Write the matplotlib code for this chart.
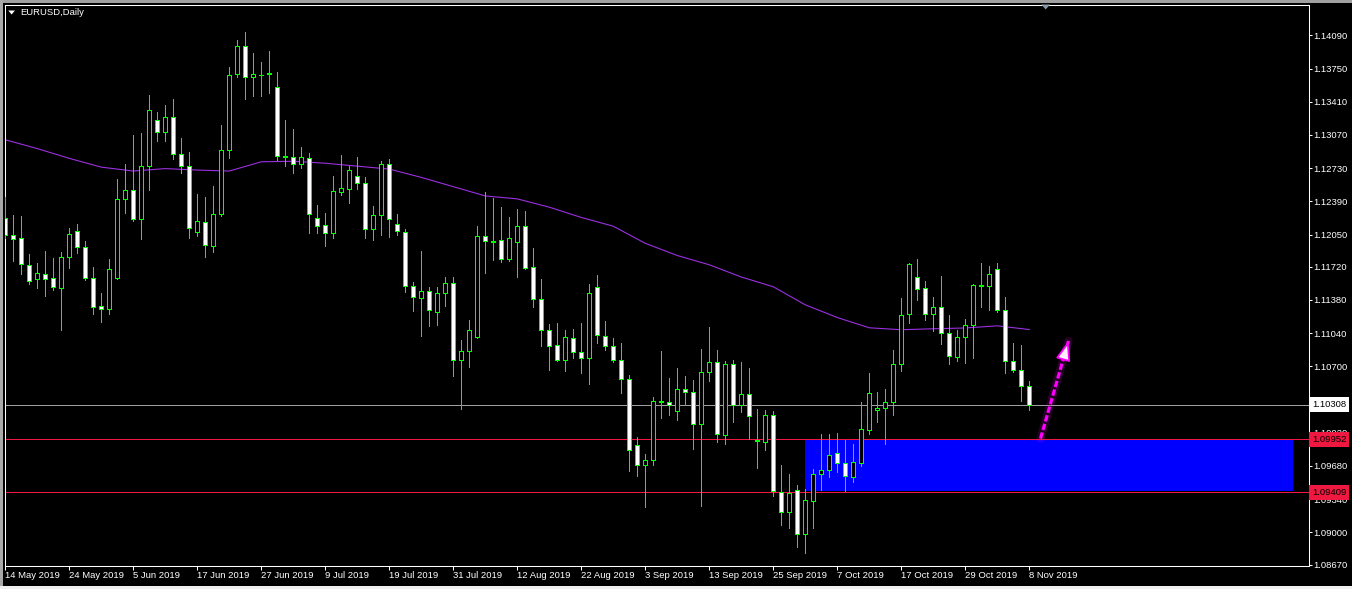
import numpy as np
import matplotlib
matplotlib.use("Agg")
import matplotlib.pyplot as plt
from matplotlib.patches import Rectangle, Polygon

plt.rcParams['font.family'] = ['Liberation Sans', 'DejaVu Sans']

# EURUSD daily candles, 14 May 2019 .. 8 Nov 2019
opens = [1.1222, 1.1204, 1.1201, 1.1174, 1.1159, 1.1165, 1.1160, 1.1150, 1.1182, 1.1209,
         1.1192, 1.1160, 1.1132, 1.1129, 1.1160, 1.1241, 1.1251, 1.1221, 1.1275, 1.1322,
         1.1310, 1.1325, 1.1287, 1.1275, 1.1208, 1.1218, 1.1193, 1.1226, 1.1292, 1.1369,
         1.1398, 1.1366, 1.1368, 1.1369, 1.1356, 1.1285, 1.1284, 1.1277, 1.1283, 1.1222,
         1.1215, 1.1207, 1.1249, 1.1252, 1.1265, 1.1258, 1.1211, 1.1225, 1.1277, 1.1216,
         1.1208, 1.1152, 1.1140, 1.1147, 1.1126, 1.1145, 1.1155, 1.1076, 1.1086, 1.1100,
         1.1203, 1.1198, 1.1199, 1.1180, 1.1197, 1.1214, 1.1172, 1.1139, 1.1107, 1.1092,
         1.1077, 1.1099, 1.1085, 1.1079, 1.1151, 1.1101, 1.1091, 1.1077, 1.1057, 1.0989,
         1.0969, 1.0974, 1.1035, 1.1034, 1.1024, 1.1047, 1.1044, 1.1011, 1.1064, 1.1074,
         1.1000, 1.1072, 1.1030, 1.1042, 1.0995, 1.0993, 1.1020, 1.0941, 1.0921, 1.0943,
         1.0898, 1.0932, 1.0960, 1.0964, 1.0981, 1.0971, 1.0957, 1.0971, 1.1005, 1.1025,
         1.1027, 1.1033, 1.1072, 1.1124, 1.1161, 1.1150, 1.1124, 1.1131, 1.1104, 1.1080,
         1.1100, 1.1112, 1.1152, 1.1152, 1.1170, 1.1128, 1.1075, 1.1066, 1.1050]
highs = [1.1243, 1.1225, 1.1224, 1.1185, 1.1176, 1.1188, 1.1181, 1.1187, 1.1212, 1.1216,
         1.1198, 1.1172, 1.1145, 1.1180, 1.1262, 1.1277, 1.1307, 1.1309, 1.1348, 1.1330,
         1.1338, 1.1344, 1.1304, 1.1289, 1.1247, 1.1243, 1.1255, 1.1317, 1.1377, 1.1404,
         1.1412, 1.1391, 1.1382, 1.1393, 1.1371, 1.1322, 1.1313, 1.1295, 1.1288, 1.1235,
         1.1227, 1.1265, 1.1286, 1.1275, 1.1284, 1.1264, 1.1234, 1.1280, 1.1282, 1.1226,
         1.1211, 1.1156, 1.1188, 1.1151, 1.1151, 1.1161, 1.1162, 1.1097, 1.1117, 1.1214,
         1.1249, 1.1242, 1.1233, 1.1223, 1.1231, 1.1229, 1.1191, 1.1159, 1.1113, 1.1114,
         1.1107, 1.1108, 1.1114, 1.1154, 1.1164, 1.1116, 1.1099, 1.1094, 1.1061, 1.0998,
         1.0980, 1.1039, 1.1086, 1.1058, 1.1068, 1.1060, 1.1056, 1.1088, 1.1110, 1.1087,
         1.1075, 1.1076, 1.1074, 1.1068, 1.1026, 1.1025, 1.1024, 1.0969, 1.0960, 1.0949,
         1.0944, 1.0965, 1.1001, 1.1001, 1.1002, 1.0995, 1.0991, 1.1034, 1.1063, 1.1044,
         1.1047, 1.1087, 1.1140, 1.1176, 1.1180, 1.1157, 1.1141, 1.1163, 1.1123, 1.1107,
         1.1119, 1.1154, 1.1176, 1.1173, 1.1176, 1.1141, 1.1094, 1.1092, 1.1055]
lows = [1.1201, 1.1178, 1.1165, 1.1154, 1.1150, 1.1142, 1.1148, 1.1107, 1.1171, 1.1186,
        1.1158, 1.1124, 1.1115, 1.1124, 1.1159, 1.1227, 1.1219, 1.1200, 1.1251, 1.1301,
        1.1301, 1.1282, 1.1268, 1.1201, 1.1203, 1.1182, 1.1187, 1.1224, 1.1283, 1.1366,
        1.1344, 1.1347, 1.1347, 1.1350, 1.1281, 1.1275, 1.1268, 1.1273, 1.1207, 1.1207,
        1.1193, 1.1201, 1.1245, 1.1237, 1.1252, 1.1201, 1.1199, 1.1204, 1.1202, 1.1205,
        1.1146, 1.1127, 1.1101, 1.1111, 1.1112, 1.1132, 1.1060, 1.1026, 1.1069, 1.1099,
        1.1166, 1.1179, 1.1177, 1.1178, 1.1161, 1.1170, 1.1131, 1.1091, 1.1066, 1.1075,
        1.1065, 1.1079, 1.1063, 1.1052, 1.1094, 1.1087, 1.1074, 1.1043, 1.0963, 1.0958,
        1.0926, 1.0969, 1.1017, 1.1020, 1.1015, 1.1030, 1.0985, 1.0927, 1.1055, 1.0993,
        1.0990, 1.1013, 1.1023, 1.0996, 1.0966, 1.0984, 1.0937, 1.0908, 1.0904, 1.0885,
        1.0879, 1.0904, 1.0943, 1.0957, 1.0962, 1.0942, 1.0952, 1.0968, 1.1001, 1.1013,
        1.0991, 1.1020, 1.1065, 1.1114, 1.1138, 1.1117, 1.1106, 1.1093, 1.1072, 1.1075,
        1.1073, 1.1079, 1.1131, 1.1128, 1.1126, 1.1063, 1.1064, 1.1035, 1.1025]
closes = [1.1204, 1.1200, 1.1175, 1.1157, 1.1166, 1.1159, 1.1151, 1.1182, 1.1206, 1.1192,
          1.1160, 1.1131, 1.1129, 1.1170, 1.1241, 1.1251, 1.1221, 1.1275, 1.1333, 1.1310,
          1.1325, 1.1287, 1.1275, 1.1212, 1.1219, 1.1194, 1.1226, 1.1292, 1.1368, 1.1398,
          1.1366, 1.1369, 1.1368, 1.1370, 1.1285, 1.1284, 1.1277, 1.1284, 1.1226, 1.1214,
          1.1207, 1.1250, 1.1253, 1.1271, 1.1258, 1.1211, 1.1225, 1.1277, 1.1221, 1.1209,
          1.1152, 1.1141, 1.1147, 1.1128, 1.1145, 1.1155, 1.1076, 1.1086, 1.1107, 1.1203,
          1.1198, 1.1197, 1.1180, 1.1201, 1.1214, 1.1171, 1.1139, 1.1107, 1.1091, 1.1077,
          1.1100, 1.1085, 1.1079, 1.1145, 1.1102, 1.1091, 1.1077, 1.1057, 1.0984, 1.0969,
          1.0974, 1.1035, 1.1034, 1.1030, 1.1047, 1.1044, 1.1011, 1.1064, 1.1074, 1.1001,
          1.1072, 1.1030, 1.1042, 1.1019, 1.0994, 1.1020, 1.0942, 1.0921, 1.0940, 1.0898,
          1.0933, 1.0960, 1.0964, 1.0979, 1.0971, 1.0958, 1.0972, 1.1006, 1.1043, 1.1027,
          1.1033, 1.1072, 1.1123, 1.1175, 1.1149, 1.1124, 1.1131, 1.1104, 1.1081, 1.1100,
          1.1112, 1.1153, 1.1153, 1.1165, 1.1128, 1.1075, 1.1066, 1.1050, 1.10308]

# moving average, read every 4th bar
ma_step = 4
ma_values = [1.1302, 1.1293, 1.1283, 1.1274, 1.1270, 1.12725, 1.1271, 1.1270, 1.12795,
             1.1280, 1.1278, 1.1275, 1.1272, 1.12635, 1.1254, 1.12445, 1.12415, 1.1233,
             1.12225, 1.12135, 1.1196, 1.11835, 1.1174, 1.11615, 1.11515, 1.1133, 1.1120,
             1.11095, 1.11075, 1.11085, 1.11093, 1.11115, 1.11077]

date_labels = ['14 May 2019', '24 May 2019', '5 Jun 2019', '17 Jun 2019', '27 Jun 2019',
               '9 Jul 2019', '19 Jul 2019', '31 Jul 2019', '12 Aug 2019', '22 Aug 2019',
               '3 Sep 2019', '13 Sep 2019', '25 Sep 2019', '7 Oct 2019', '17 Oct 2019',
               '29 Oct 2019', '8 Nov 2019']
label_step = 8

price_ticks = [1.14090, 1.13750, 1.13410, 1.13070, 1.12730, 1.12390, 1.12050, 1.11720,
               1.11380, 1.11040, 1.10700, 1.10360, 1.10020, 1.09680, 1.09340, 1.09000,
               1.08670]

bid_price = 1.10308
zone_high = 1.09952
zone_low_line = 1.09409
zone_low = 1.09425
zone_start = 99.95
zone_end = 161.0

W, H = 1352, 589
GREEN = '#00ff00'
RED = '#ee1840'
LW = 0.6  # about one screen pixel


def px(x, y):
    return x / W, 1 - y / H


fig = plt.figure(figsize=(W / 100, H / 100), dpi=100, facecolor='black')
ax = fig.add_axes([4.5 / W, (H - 565.5) / H, 1304 / W, 561 / H], facecolor='black')

idx = np.arange(len(opens))
o = np.array(opens)
c = np.array(closes)
hi = np.array(highs)
lo = np.array(lows)

# background objects
ax.add_patch(Rectangle((zone_start, zone_low), zone_end - zone_start, zone_high - zone_low,
                       facecolor='#0000ff', edgecolor='none', zorder=0.5))
ax.axhline(bid_price, color='#a0a0a0', lw=LW, zorder=1, antialiased=False)
ax.axhline(zone_high, color=RED, lw=0.75, zorder=1.2)
ax.axhline(zone_low_line, color=RED, lw=0.75, zorder=1.2)

ax.plot(np.arange(0, len(opens), ma_step), ma_values, color='#9b30e0', lw=0.8, zorder=2)

# candles
ax.vlines(idx, lo, hi, color=GREEN, lw=LW, zorder=3, antialiased=False)
bear = c < o
body_h = np.maximum(np.abs(c - o), 0.000001)
bottoms = np.minimum(o, c)
for i in idx:
    ax.add_patch(Rectangle((i - 0.27, bottoms[i]), 0.54, body_h[i],
                           facecolor='white' if bear[i] else 'black', edgecolor=GREEN,
                           linewidth=LW, zorder=4, antialiased=False))

# arrow drawn on the chart
tail = (129.4, 1.0996)
tip = (132.9, 1.1096)
ax.plot([tail[0], tip[0]], [tail[1], tip[1]], color='#ff00ff', lw=6, alpha=0.15,
        solid_capstyle='round', zorder=5)
ax.plot([tail[0], tip[0]], [tail[1], tip[1]], color='#ff00ff', lw=2.3,
        ls=(0, (2.0, 0.8)), zorder=6)
base = (tip[0] + (tail[0] - tip[0]) * 0.18, tip[1] + (tail[1] - tip[1]) * 0.18)
ax.annotate('', xy=tip, xytext=base,
            arrowprops=dict(arrowstyle='-|>,head_length=0.85,head_width=0.32',
                            mutation_scale=14, fc='#fff0ff', ec='#ff00ff', lw=1.3,
                            shrinkA=0, shrinkB=0), zorder=7)

ax.set_xlim(-0.1, 162.9)
# limits nudged a fraction of a pixel so the level lines land on pixel rows
ax.set_ylim(1.086608, 1.144054)

for s in ax.spines.values():
    s.set_color('white')
    s.set_linewidth(0.75)

ax.yaxis.tick_right()
ax.set_yticks(price_ticks)
ax.set_yticklabels(['%.5f' % p for p in price_ticks])
ax.tick_params(axis='y', colors='white', length=2.2, width=0.75, pad=1.5, labelsize=6.8)

ax.set_xticks(np.arange(0, len(date_labels) * label_step, label_step))
ax.set_xticklabels(date_labels, ha='left')
ax.tick_params(axis='x', colors='white', length=2.9, width=0.75, pad=1.2, labelsize=6.8)

# price labels on the right scale (they sit over the scale, as in the terminal)
for val, fc in [(bid_price, 'white'), (zone_high, RED), (zone_low_line, RED)]:
    ax.text(1 + 3.5 / 1304, val, '%.5f' % val, transform=ax.get_yaxis_transform(),
            ha='left', va='center', fontsize=6.8, color='black', clip_on=False, zorder=10,
            bbox=dict(boxstyle='square,pad=0.3', fc=fc, ec='none'))

# window decorations
fig.text(*px(20, 12.5), 'EURUSD,Daily', color='white', fontsize=6.8, ha='left', va='center')
fig.add_artist(Polygon([px(8.3, 10.5), px(15, 10.5), px(11.6, 14.5)], closed=True,
                       fc='white', ec='none', transform=fig.transFigure))
fig.add_artist(Polygon([px(1041.5, 4.5), px(1050, 4.5), px(1045.7, 9.5)], closed=True,
                       fc='#8898a8', ec='none', transform=fig.transFigure))
fig.add_artist(Rectangle((0, 1 - 3 / H), 1, 3 / H, fc='#a0a0a0', ec='none',
                         transform=fig.transFigure))
fig.add_artist(Rectangle((0, 0), 2.5 / W, 1, fc='#a8a8a8', ec='none',
                         transform=fig.transFigure))
fig.add_artist(Rectangle((0, 0), 1, 3 / H, fc='#f0f0f0', ec='none',
                         transform=fig.transFigure))

fig.savefig('out.png', dpi=100, facecolor='black')
